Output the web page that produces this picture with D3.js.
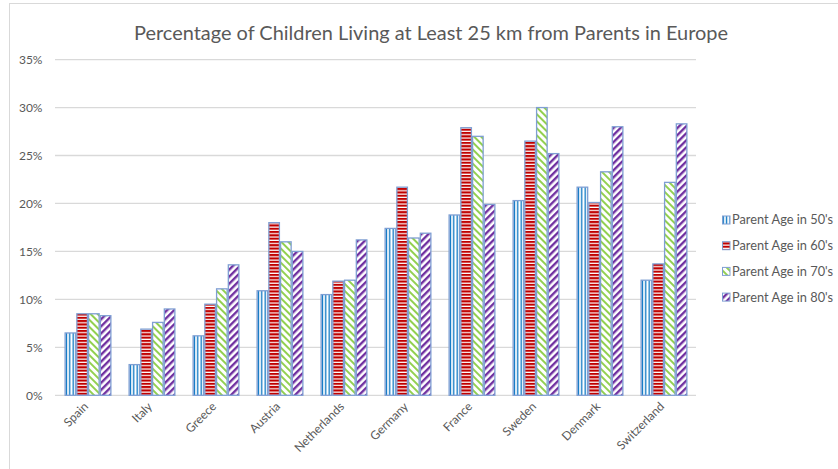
<!DOCTYPE html>
<html>
<head>
<meta charset="utf-8">
<script src="https://cdn.jsdelivr.net/npm/d3@7"></script>
<style>
  body { margin: 0; background: #fff; }
  svg { display: block; font-family: Lato, "Open Sans", sans-serif; }
</style>
</head>
<body>
<svg id="chart" width="838" height="469"></svg>
<script>
// data
var countries = ["Spain", "Italy", "Greece", "Austria", "Netherlands", "Germany", "France", "Sweden", "Denmark", "Switzerland"];
var seriesNames = ["Parent Age in 50's", "Parent Age in 60's", "Parent Age in 70's", "Parent Age in 80's"];
var age50 = [6.5, 3.2, 6.2, 10.9, 10.5, 17.4, 18.8, 20.3, 21.7, 12.0];
var age60 = [8.5, 6.9, 9.5, 18.0, 11.9, 21.7, 27.9, 26.5, 20.1, 13.7];
var age70 = [8.5, 7.6, 11.1, 16.0, 12.0, 16.4, 27.0, 30.0, 23.3, 22.2];
var age80 = [8.3, 9.0, 13.6, 15.0, 16.2, 16.9, 19.9, 25.2, 28.0, 28.3];
var yTicks = [0, 5, 10, 15, 20, 25, 30, 35];

var series = [age50, age60, age70, age80];

var svg = d3.select("#chart");
var defs = svg.append("defs");

// hatch patterns, one per series
function makePatterns() {
    var p;
    // vertical blue lines
    p = defs.append("pattern").attr("id", "pat0").attr("patternUnits", "userSpaceOnUse")
        .attr("width", 3.4).attr("height", 4);
    p.append("rect").attr("width", 3.4).attr("height", 4).attr("fill", "#fff");
    p.append("rect").attr("x", 0.6).attr("width", 1.3).attr("height", 4).attr("fill", "#0070c0");

    // horizontal red bars
    p = defs.append("pattern").attr("id", "pat1").attr("patternUnits", "userSpaceOnUse")
        .attr("width", 4).attr("height", 3.3);
    p.append("rect").attr("width", 4).attr("height", 3.3).attr("fill", "#fff");
    p.append("rect").attr("y", 0).attr("width", 4).attr("height", 2.1).attr("fill", "#c00000");

    // green "\" diagonals
    p = defs.append("pattern").attr("id", "pat2").attr("patternUnits", "userSpaceOnUse")
        .attr("width", 5).attr("height", 5)
        .attr("patternTransform", "rotate(-45)");
    p.append("rect").attr("width", 5).attr("height", 5).attr("fill", "#fff");
    p.append("rect").attr("width", 2).attr("height", 5).attr("fill", "#92d050");

    // purple "/" diagonals
    p = defs.append("pattern").attr("id", "pat3").attr("patternUnits", "userSpaceOnUse")
        .attr("width", 5).attr("height", 5)
        .attr("patternTransform", "rotate(45)");
    p.append("rect").attr("width", 5).attr("height", 5).attr("fill", "#fff");
    p.append("rect").attr("width", 2.4).attr("height", 5).attr("fill", "#7030a0");
}
makePatterns();

// chart border (runs off the right/bottom edge like the screenshot)
svg.append("rect")
    .attr("x", 9.5).attr("y", 3.5)
    .attr("width", 845).attr("height", 480)
    .attr("fill", "none")
    .attr("stroke", "#d9d9d9");

var plotLeft = 56, plotRight = 696, plotTop = 59.6, plotBottom = 395.3;

var x0 = d3.scaleBand()
    .domain(countries)
    .range([plotLeft, plotRight])
    .paddingInner(0.285)
    .paddingOuter(0.1425);

var x1 = d3.scaleBand()
    .domain(d3.range(4))
    .range([0, x0.bandwidth()])
    .paddingInner(0.1);

var y = d3.scaleLinear()
    .domain([0, 35])
    .range([plotBottom, plotTop]);

// gridlines
svg.append("g")
    .selectAll("line")
    .data(yTicks)
    .join("line")
    .attr("x1", plotLeft - 1).attr("x2", plotRight)
    .attr("y1", function(d) { return y(d); })
    .attr("y2", function(d) { return y(d); })
    .attr("stroke", "#d9d9d9")
    .attr("stroke-width", 1.3);

// y tick labels
svg.append("g")
    .selectAll("text")
    .data(yTicks)
    .join("text")
    .attr("x", 42.5)
    .attr("y", function(d) { return y(d); })
    .attr("dy", "0.35em")
    .attr("text-anchor", "end")
    .attr("font-size", 12)
    .attr("fill", "#595959")
    .text(function(d) { return d + "%"; });

// bars
var groups = svg.append("g")
    .selectAll("g")
    .data(countries)
    .join("g")
    .attr("transform", function(d) { return "translate(" + x0(d) + ",0)"; });

groups.selectAll("rect")
    .data(function(d, i) { return series.map(function(s, k) { return {k: k, v: s[i]}; }); })
    .join("rect")
    .attr("x", function(d) { return x1(d.k); })
    .attr("y", function(d) { return y(d.v); })
    .attr("width", x1.bandwidth())
    .attr("height", function(d) { return plotBottom - y(d.v); })
    .attr("fill", function(d) { return "url(#pat" + d.k + ")"; })
    .attr("stroke", "#7f9fd3")
    .attr("stroke-width", 1.3);

// x category labels, rotated
svg.append("g")
    .selectAll("text")
    .data(countries)
    .join("text")
    .attr("transform", function(d) {
        return "translate(" + (x0(d) + x0.bandwidth() / 2 + 1) + "," + (plotBottom + 12) + ") rotate(-45)";
    })
    .attr("text-anchor", "end")
    .attr("font-size", 12)
    .attr("fill", "#595959")
    .text(function(d) { return d; });

// legend
var legend = svg.append("g")
    .selectAll("g")
    .data(seriesNames)
    .join("g")
    .attr("transform", function(d, i) { return "translate(722," + (220 + i * 25.7) + ")"; });

legend.append("rect")
    .attr("x", 0.5).attr("y", -4)
    .attr("width", 7.5).attr("height", 8)
    .attr("fill", function(d, i) { return "url(#pat" + i + ")"; })
    .attr("stroke", "#7f9fd3")
    .attr("stroke-width", 1);

legend.append("text")
    .attr("x", 10)
    .attr("dy", "0.35em")
    .attr("font-size", 12.8)
    .attr("fill", "#595959")
    .text(function(d) { return d; });

// title
var title = svg.append("text")
    .attr("x", 431)
    .attr("y", 40)
    .attr("text-anchor", "middle")
    .attr("font-size", 18.7)
    .attr("fill", "#595959")
    .text("Percentage of Children Living at Least 25 km from Parents in Europe");

// fit title to the width seen in the picture
var tw = title.node().getComputedTextLength();
title.attr("font-size", 18.7 * 594 / tw);
</script>
</body>
</html>
